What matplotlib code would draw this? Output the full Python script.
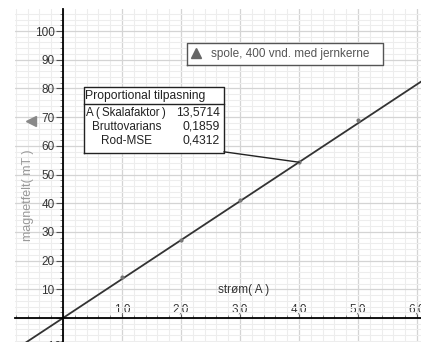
import matplotlib.pyplot as plt
from matplotlib.ticker import MultipleLocator, FuncFormatter

# data
strom = [1.0, 2.0, 3.0, 4.0, 5.0]
magnetfelt = [14.2, 27.3, 41.0, 54.5, 69.0]
skalafaktor = 13.5714
fit_x = [-0.9, 6.2]

tabel_navne = ['A\u2009(\u2009Skalafaktor\u2009)', 'Bruttovarians', 'Rod-MSE']
tabel_vaerdier = ['13,5714', '0,1859', '0,4312']

plt.rcParams['font.family'] = ['Liberation Sans', 'DejaVu Sans']

fig = plt.figure(figsize=(4.21, 3.42), dpi=100)
ax = fig.add_axes([15 / 421, 0, 406 / 421, 333 / 342])
ax.set_xlim(-0.8136, 6.068)
ax.set_ylim(-8.36, 107.67)

# grid
ax.xaxis.set_major_locator(MultipleLocator(1))
ax.xaxis.set_minor_locator(MultipleLocator(0.2))
ax.yaxis.set_major_locator(MultipleLocator(10))
ax.yaxis.set_minor_locator(MultipleLocator(2))
ax.grid(which='major', color='#d4d4d4', lw=0.9)
ax.grid(which='minor', color='#ededed', lw=0.8)
ax.set_axisbelow(True)

for s in ['top', 'right']:
    ax.spines[s].set_visible(False)
ax.spines['left'].set_position(('data', 0))
ax.spines['bottom'].set_position(('data', 0))
ax.spines['left'].set_linewidth(1.3)
ax.spines['bottom'].set_linewidth(1.3)

ax.xaxis.set_major_formatter(FuncFormatter(lambda v, p: ('%.1f' % v).replace('.', ',') if v > 0 else ''))
ax.yaxis.set_major_formatter(FuncFormatter(lambda v, p: '%d' % v if v > 0 else ''))
ax.tick_params(axis='x', which='major', direction='in', length=3, pad=-10.5,
               labelsize=8.5, labelcolor='#333333', color='#555555')
ax.tick_params(axis='x', which='minor', direction='in', length=2, color='#777777')
ax.tick_params(axis='y', which='major', direction='out', length=5, pad=1,
               labelsize=8.5, labelcolor='#333333', color='#555555')
ax.tick_params(axis='y', which='minor', direction='out', length=2, color='#777777')
ax.text(-0.03, -10, '-10', ha='right', va='center', fontsize=8.5, color='#333333', clip_on=False)

# fitted line and data points
ax.plot(fit_x, [skalafaktor * v for v in fit_x], color='#333333', lw=1.3)
ax.plot(strom, magnetfelt, 'o', color='#777777', ms=2)

# axis labels
ax.text(2.62, 9.8, 'strøm( A )', fontsize=8.5, color='#333333', ha='left', va='center')
ax.text(-0.59, 42.9, 'magnetfelt( mT )', fontsize=9, color='#999999', rotation=90,
        ha='center', va='center')
ax.plot([-0.55], [68.5], marker='<', color='#888888', ms=7, clip_on=False)

# legend box
lx0, lx1, ly0, ly1 = 2.10, 5.42, 88.2, 95.8
ax.fill([lx0, lx1, lx1, lx0], [ly0, ly0, ly1, ly1], color='white', zorder=4)
ax.plot([lx0, lx1, lx1, lx0, lx0], [ly0, ly0, ly1, ly1, ly0], color='#555555', lw=1, zorder=5)
ax.plot([2.25], [92.4], marker='^', color='#666666', ms=6.5, zorder=6)
ax.text(2.51, 92.0, 'spole, 400 vnd. med jernkerne', fontsize=8.5, color='#555555',
        ha='left', va='center', zorder=6)

# table box
tx0, tx1 = 0.36, 2.73
ty0, ty1 = 57.5, 80.5
ax.fill([tx0, tx1, tx1, tx0], [ty0, ty0, ty1, ty1], color='white', zorder=3)
ax.plot([tx0, tx1, tx1, tx0, tx0], [ty0, ty0, ty1, ty1, ty0], color='#222222', lw=1, zorder=4)
ax.plot([tx0, tx1], [74.6, 74.6], color='#222222', lw=1, zorder=4)
ax.plot([tx1, 4.0], [ty0 + 0.4, skalafaktor * 4.0], color='#222222', lw=1, zorder=4)
ax.text(tx0 + 0.02, 77.4, 'Proportional tilpasning', fontsize=8.7, color='#222222',
        ha='left', va='center', zorder=5)
for i, (navn, verdi) in enumerate(zip(tabel_navne, tabel_vaerdier)):
    yy = 71.5 - i * 4.9
    if i == 0:
        ax.text(tx0 + 0.03, yy, navn, fontsize=8.3, color='#222222', ha='left', va='center', zorder=5)
    else:
        ax.text(1.08, yy, navn, fontsize=8.5, color='#222222', ha='center', va='center', zorder=5)
    ax.text(2.66, yy, verdi, fontsize=8.7, color='#222222', ha='right', va='center', zorder=5)

fig.savefig('out.png', dpi=100)
